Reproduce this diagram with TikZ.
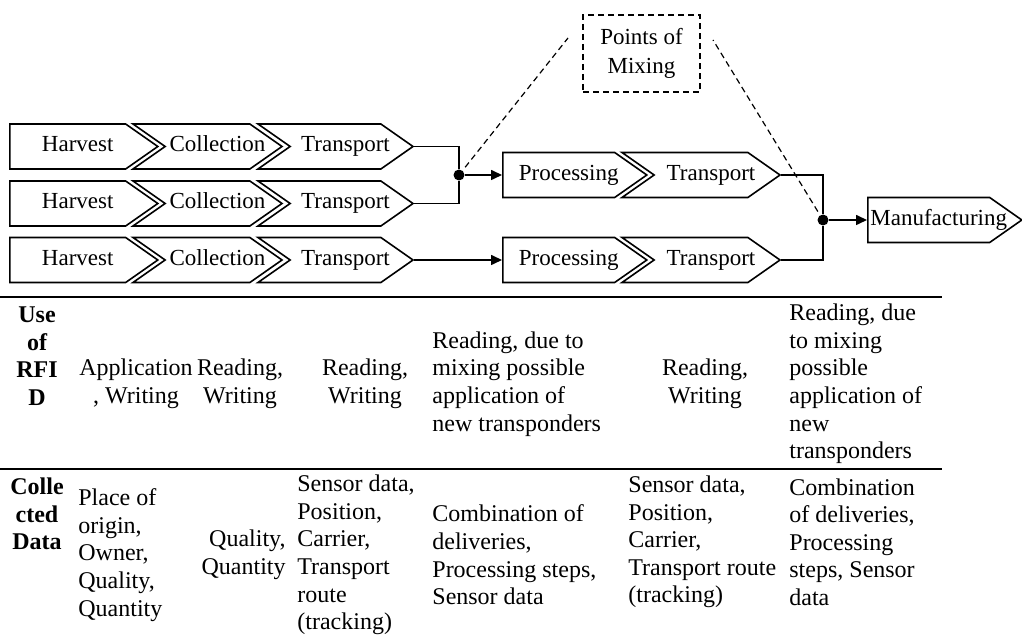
\documentclass[tikz,border=0pt]{standalone}
\usepackage{fontspec}
\setmainfont{Liberation Serif}
\usetikzlibrary{arrows.meta,shapes.symbols}

\begin{document}
\begin{tikzpicture}[x=0.5pt, y=-0.5pt,
  chev/.style={signal, signal to=east, signal from=nowhere,
    signal pointer angle=70, draw, line width=0.8pt,
    minimum height=22.5pt, inner sep=0pt,
    label={[font=\fontsize{11.5}{13}\selectfont, text height=8pt,
      text depth=2.5pt, xshift=5pt]center:#1}},
  chevin/.style={chev=#1, signal from=west},
  jdot/.style={circle, fill=black, inner sep=0pt, minimum size=5.5pt},
  link/.style={line width=0.8pt},
  arr/.style={link, -{Triangle[length=5.5pt,width=5pt]}},
  mixline/.style={line width=0.6pt, dash pattern=on 3pt off 2pt},
  mixbox/.style={draw, line width=0.6pt, dash pattern=on 3pt off 2pt,
    minimum width=58.5pt, minimum height=38.5pt, align=center,
    font=\fontsize{11.5}{14.5}\selectfont},
  rule/.style={line width=1.4pt},
  cell/.style={inner sep=0pt, font=\fontsize{12}{13.8}\selectfont},
  hd/.style={cell, font=\fontsize{12}{13.8}\selectfont\bfseries,
    align=center, anchor=north}]
  \useasboundingbox (0,0) rectangle (1022,635);

  % supply chains
  \foreach \r/\y in {1/146.5,2/203.5,3/260}{
    \node[chev=Harvest, minimum width=74pt, anchor=west] (h\r) at (9,\y) {};
    \node[chevin=Collection, minimum width=74.5pt] (c\r) at (207.5,\y) {};
    \node[chevin=Transport, minimum width=77.5pt] (t\r) at (335.5,\y) {};
  }
  \node[chev=Processing, minimum width=72pt, anchor=west] (p1) at (502,175) {};
  \node[chevin=Transport, minimum width=79pt] (q1) at (701,175) {};
  \node[chev=Processing, minimum width=72pt, anchor=west] (p2) at (502,260) {};
  \node[chevin=Transport, minimum width=79pt] (q2) at (701,260) {};
  \node[chev=Manufacturing, minimum width=77pt, anchor=west] (mf) at (867,220) {};

  \node[jdot] (j1) at (459,175) {};
  \node[jdot] (j2) at (823,220) {};
  \draw[link] (t1.east) -| (j1);
  \draw[link] (t2.east) -| (j1);
  \draw[arr] (j1) -- (p1.west);
  \draw[arr] (t3.east) -- (p2.west);
  \draw[link] (q1.east) -| (j2);
  \draw[link] (q2.east) -| (j2);
  \draw[arr] (j2) -- (mf.west);

  % points of mixing
  \node[mixbox] (mix) at (641.5,53.5) {Points of\\Mixing};
  \coordinate (mxL) at (568,38);
  \coordinate (mxR) at (713,40);
  \draw[mixline, shorten <=2pt] (j1) -- (mxL);
  \draw[mixline, shorten <=2pt] (j2) -- (mxR);

  % table
  \draw[rule] (0,297) -- (942,297);
  \draw[rule] (0,469) -- (942,469);

  \node[hd] (rfid) at (37,306.5) {Use\\of\\RFI\\D};
  \node[cell, align=center] (u1) at (136,384) {Application\\, Writing};
  \node[cell, align=center] (u2) at (240,384) {Reading,\\Writing};
  \node[cell, align=center] (u3) at (365,384) {Reading,\\Writing};
  \node[cell, align=left, anchor=west] (u4) at (432,384)
       {Reading, due to\\mixing possible\\application of\\new transponders};
  \node[cell, align=center] (u5) at (705,384) {Reading,\\Writing};
  \node[cell, align=left, anchor=west] (u6) at (789,384)
       {Reading, due\\to mixing\\possible\\application of\\new\\transponders};

  \node[hd] (data) at (37,477.5) {Colle\\cted\\Data};
  \node[cell, align=left, anchor=west] (d1) at (78,555)
       {Place of\\origin,\\Owner,\\Quality,\\Quantity};
  \node[cell, align=right, anchor=east] (d2) at (286,555) {Quality,\\Quantity};
  \node[cell, align=left, anchor=west] (d3) at (297,555)
       {Sensor data,\\Position,\\Carrier,\\Transport\\route\\(tracking)};
  \node[cell, align=left, anchor=west] (d4) at (432,555)
       {Combination of\\deliveries,\\Processing steps,\\Sensor data};
  \node[cell, align=left, anchor=west] (d5) at (628,542)
       {Sensor data,\\Position,\\Carrier,\\Transport route\\(tracking)};
  \node[cell, align=left, anchor=west] (d6) at (789,542)
       {Combination\\of deliveries,\\Processing\\steps, Sensor\\data};
\end{tikzpicture}
\end{document}
